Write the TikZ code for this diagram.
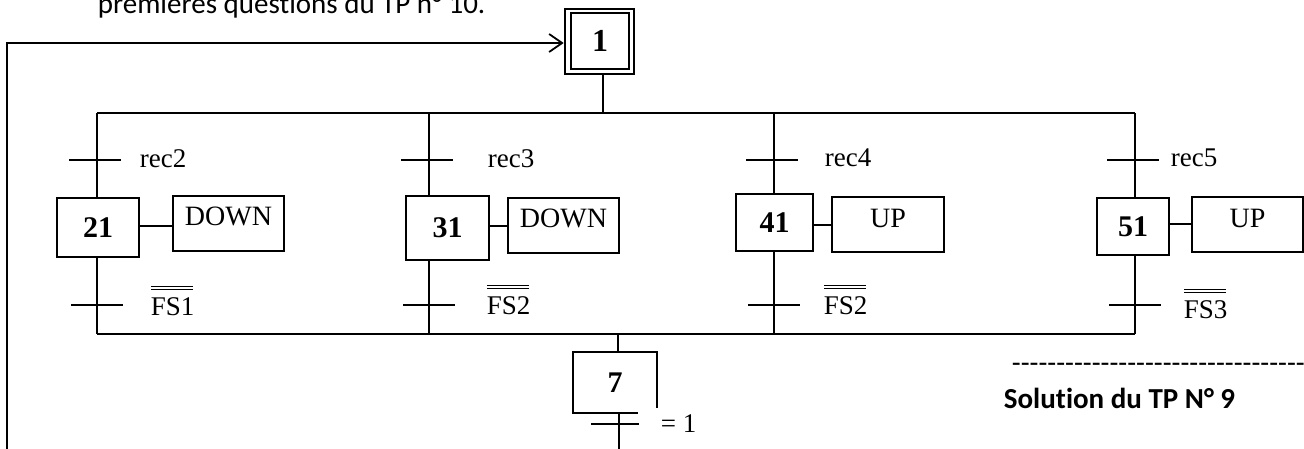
\documentclass[tikz,border=0pt]{standalone}
\usepackage{fontspec}
\setmainfont{Liberation Serif}
\newfontfamily\calibri[Ligatures=NoCommon]{Carlito}
\usetikzlibrary{arrows.meta,calc}
\begin{document}
\begin{tikzpicture}[x=1pt,y=-1pt,line width=1.8pt,
  stepbox/.style={draw,line width=1.8pt,inner sep=0pt,font=\fontsize{30}{32}\selectfont\bfseries},
  initbox/.style={draw,line width=2.6pt,inner sep=0pt},
  actbox/.style={draw,line width=1.8pt,inner sep=0pt},
  acttext/.style={anchor=base,inner sep=0pt,font=\fontsize{28}{30}\selectfont},
  lbl/.style={anchor=base west,inner sep=0pt,font=\fontsize{27}{30}\selectfont},
  bar/.style={line width=1.2pt},
  cal/.style={anchor=base west,inner sep=0pt,font=\fontsize{29}{32}\selectfont\calibri}]
\useasboundingbox (0,0) rectangle (1304,448);
\clip (0,0) rectangle (1304,448);

% header text (cut off at top, as in the reference)
\node[cal] (hdr) at (97,13) {premières questions du TP n° 10.};

% initial step 1
\node[initbox,minimum width=69pt,minimum height=65pt] (s1o) at (599.5,41.5) {};
\node[initbox,minimum width=58pt,minimum height=56pt,font=\fontsize{32}{34}\selectfont\bfseries] (s1) at (600,41) {1};

% buses
\coordinate (j1) at (603,113);
\draw (j1) -- (j1 |- s1o.south);
\draw (97,113) coordinate (bT1) -- (1135,113) coordinate (bT4);
\draw (97,334) coordinate (busB) -- (1135,334) coordinate (bB4);

% branch x positions
\coordinate (b1) at (97,113);
\coordinate (b2) at (429,113);
\coordinate (b3) at (774,113);
\coordinate (b4) at (1135,113);

% steps
\node[stepbox,minimum width=82pt,minimum height=59pt] (s21) at (98,227.5) {21};
\node[stepbox,minimum width=83pt,minimum height=64pt] (s31) at (447.5,228) {31};
\node[stepbox,minimum width=77pt,minimum height=57pt] (s41) at (774.5,222.5) {41};
\node[stepbox,minimum width=72pt,minimum height=57pt] (s51) at (1133,226.5) {51};

% action boxes
\node[actbox,minimum width=111pt,minimum height=55pt] (a21) at (228.5,223.5) {};
\node[actbox,minimum width=111pt,minimum height=55pt] (a31) at (563.5,225.5) {};
\node[actbox,minimum width=112pt,minimum height=55pt] (a41) at (888,224.5) {};
\node[actbox,minimum width=111pt,minimum height=55pt] (a51) at (1247.5,224.5) {};
\node[acttext] (t21) at ($(a21.north)+(0,30)$) {DOWN};
\node[acttext] (t31) at ($(a31.north)+(0,30)$) {DOWN};
\node[acttext] (t41) at ($(a41.north)+(0,31)$) {UP};
\node[acttext] (t51) at ($(a51.north)+(0,31)$) {UP};

% step to action links
\coordinate (l21) at ($(s21.east)+(0,-1.5)$);
\coordinate (l31) at ($(s31.east)+(0,-2)$);
\coordinate (l41) at ($(s41.east)+(0,2.5)$);
\coordinate (l51) at ($(s51.east)+(0,-2.5)$);
\draw (l21) -- (l21 -| a21.west);
\draw (l31) -- (l31 -| a31.west);
\draw (l41) -- (l41 -| a41.west);
\draw (l51) -- (l51 -| a51.west);

% branch verticals
\draw (b1) -- (b1 |- s21.north);
\draw (b2) -- (b2 |- s31.north);
\draw (b3) -- (b3 |- s41.north);
\draw (b4) -- (b4 |- s51.north);
\draw (b1 |- s21.south) -- (b1 |- busB);
\draw (b2 |- s31.south) -- (b2 |- busB);
\draw (b3 |- s41.south) -- (b3 |- busB);
\draw (b4 |- s51.south) -- (b4 |- busB);

% receptivity ticks
\foreach \b in {b1,b2,b3,b4}{
  \draw ($(\b |- 0,160)+(-28,0)$) -- ($(\b |- 0,160)+(24,0)$);
  \draw ($(\b |- 0,305)+(-26,0)$) -- ($(\b |- 0,305)+(26,0)$);
}

% receptivity labels
\node[lbl] (r2) at (139,167) {rec2};
\node[lbl] (r3) at (487,167) {rec3};
\node[lbl] (r4) at (824,166) {rec4};
\node[lbl] (r5) at (1170,166) {rec5};
\node[lbl] (f1) at (150,315) {FS1};
\node[lbl] (f2) at (486,314) {FS2};
\node[lbl] (f3) at (823,314) {FS2};
\node[lbl] (f4) at (1183,318) {FS3};
\foreach \f in {f1,f2,f3,f4}{
  \draw[bar] ($(\f.north west)+(1,-10)$) -- ($(\f.north east)+(-2,-10)$);
  \draw[bar] ($(\f.north west)+(1,-7)$) -- ($(\f.north east)+(-2,-7)$);
}

% step 7
\node[inner sep=0pt,minimum width=82pt,minimum height=59pt,font=\fontsize{30}{32}\selectfont\bfseries] (s7) at (615,382.5) {7};
\draw ($(s7.south east)+(0,-5)$) -- (s7.north east) -- (s7.north west) -- (s7.south west) -- ($(s7.south west)+(65,0)$);
\coordinate (j7) at (618,334);
\draw (j7) -- (j7 |- s7.north);
\coordinate (e7) at (619,452);
\draw (e7 |- s7.south) -- (e7);
\draw ($(e7 |- 0,424)+(-28,0)$) -- ($(e7 |- 0,424)+(20,0)$);
\node[lbl] (eq) at (660,432) {= 1};

% return line
\coordinate (ret) at (7,452);
\draw[-{Straight Barb[length=13pt,width=18pt,line width=1.8pt]}] (ret) |- ($(s1o.west)+(0,1.5)$);

% footer text
\node[cal] (dash) at (1011,372) {-------------------------------------};
\node[cal,font=\fontsize{29}{32}\selectfont\calibri\bfseries] (sol) at (1003,408) {Solution du TP N° 9};
\end{tikzpicture}
\end{document}
